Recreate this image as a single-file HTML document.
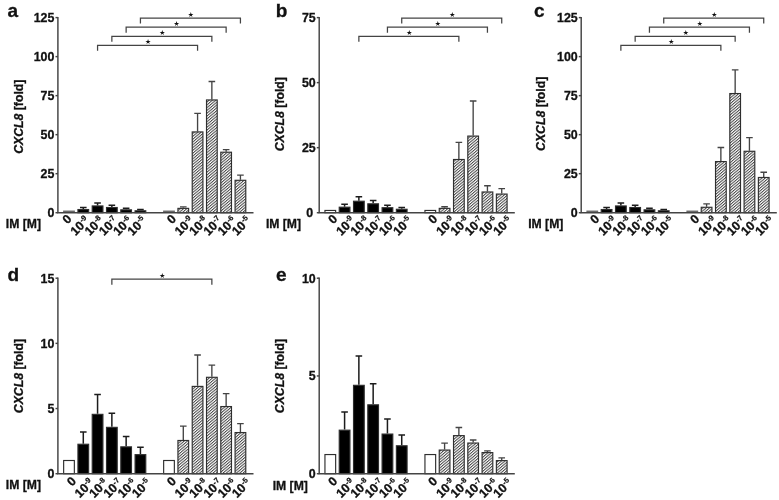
<!DOCTYPE html>
<html lang="en"><head><meta charset="utf-8"><title>CXCL8 fold induction</title>
<style>html,body{margin:0;padding:0;background:#fff}svg{display:block;will-change:transform}text{font-family:"Liberation Sans","DejaVu Sans",sans-serif;font-weight:bold;fill:#111;stroke:#111;stroke-width:0.3px}.t{font-size:12.4px}.p{font-size:19px}.s{font-size:7.5px;stroke-width:0.2px}.st{font-size:6.8px;font-weight:normal;stroke:none}.ln{stroke:#444;stroke-width:1.45;fill:none}.eb{stroke:#444;stroke-width:1.35;fill:none}.k{stroke:#1c1c1c;stroke-width:1.5}.br{stroke:#444;stroke-width:1.25;fill:none}</style></head><body>
<svg width="779" height="500" viewBox="0 0 779 500">
<defs><pattern id="h" width="2.15" height="2.15" patternUnits="userSpaceOnUse" patternTransform="rotate(-40)"><rect width="2.15" height="2.15" fill="#fff"/><rect y="0" width="2.15" height="1.0" fill="#484848"/></pattern></defs>
<rect width="779" height="500" fill="#fff"/>
<g>
<text class="p" x="7.6" y="17.4">a</text>
<text class="t" style="font-size:12.25px" text-anchor="middle" transform="translate(23.0,116.7) rotate(-90)"><tspan font-style="italic">CXCL8</tspan> [fold]</text>
<text class="t" style="font-size:12.2px" x="5.8" y="228.1">IM [M]</text>
<rect x="63.10" y="210.54" width="11.80" height="2.16" fill="#6a6a6a"/>
<path class="eb k" d="M83.29 208.99V207.59M79.99 207.59H86.59"/>
<rect x="77.94" y="209.54" width="10.70" height="3.16" fill="#000" stroke="#2e2e2e" stroke-width="1.15"/>
<path class="eb k" d="M97.57 205.40V203.09M94.27 203.09H100.87"/>
<rect x="92.22" y="205.95" width="10.70" height="6.75" fill="#000" stroke="#2e2e2e" stroke-width="1.15"/>
<path class="eb k" d="M111.86 206.96V205.32M108.56 205.32H115.16"/>
<rect x="106.51" y="207.51" width="10.70" height="5.19" fill="#000" stroke="#2e2e2e" stroke-width="1.15"/>
<path class="eb k" d="M126.14 209.30V208.13M122.84 208.13H129.44"/>
<rect x="120.79" y="209.85" width="10.70" height="2.85" fill="#000" stroke="#2e2e2e" stroke-width="1.15"/>
<path class="eb k" d="M140.43 210.24V209.43M137.13 209.43H143.73"/>
<rect x="135.08" y="210.79" width="10.70" height="1.91" fill="#000" stroke="#2e2e2e" stroke-width="1.15"/>
<rect x="163.10" y="210.54" width="11.80" height="2.16" fill="#6a6a6a"/>
<path class="eb" d="M183.29 207.82V206.88M179.99 206.88H186.59"/>
<rect x="177.94" y="208.37" width="10.70" height="4.33" fill="url(#h)" stroke="#2e2e2e" stroke-width="1.15"/>
<path class="eb" d="M197.57 131.38V113.44M194.27 113.44H200.87"/>
<rect x="192.22" y="131.93" width="10.70" height="80.77" fill="url(#h)" stroke="#2e2e2e" stroke-width="1.15"/>
<path class="eb" d="M211.86 99.40V81.46M208.56 81.46H215.16"/>
<rect x="206.51" y="99.95" width="10.70" height="112.75" fill="url(#h)" stroke="#2e2e2e" stroke-width="1.15"/>
<path class="eb" d="M226.14 151.66V149.63M222.84 149.63H229.44"/>
<rect x="220.79" y="152.21" width="10.70" height="60.49" fill="url(#h)" stroke="#2e2e2e" stroke-width="1.15"/>
<path class="eb" d="M240.43 179.74V175.06M237.13 175.06H243.73"/>
<rect x="235.08" y="180.29" width="10.70" height="32.41" fill="url(#h)" stroke="#2e2e2e" stroke-width="1.15"/>
<path class="ln" d="M57.90 17.00V212.70H253.50"/>
<path class="ln" d="M57.90 212.70H55.50"/>
<text class="t" text-anchor="end" x="54.4" y="217.1">0</text>
<path class="ln" d="M57.90 173.68H55.50"/>
<text class="t" text-anchor="end" x="54.4" y="178.1">25</text>
<path class="ln" d="M57.90 134.66H55.50"/>
<text class="t" text-anchor="end" x="54.4" y="139.1">50</text>
<path class="ln" d="M57.90 95.64H55.50"/>
<text class="t" text-anchor="end" x="54.4" y="100.0">75</text>
<path class="ln" d="M57.90 56.62H55.50"/>
<text class="t" text-anchor="end" x="54.4" y="61.0">100</text>
<path class="ln" d="M57.90 17.60H55.50"/>
<text class="t" text-anchor="end" x="54.4" y="22.0">125</text>
<text class="t" text-anchor="end" transform="translate(72.4,219.7) rotate(-45)">0</text>
<g transform="translate(85.2,226.4) rotate(-45)"><text class="t" text-anchor="end">10</text><text class="s" x="0.2" y="-4.5">-9</text></g>
<g transform="translate(99.5,226.4) rotate(-45)"><text class="t" text-anchor="end">10</text><text class="s" x="0.2" y="-4.5">-8</text></g>
<g transform="translate(113.8,226.4) rotate(-45)"><text class="t" text-anchor="end">10</text><text class="s" x="0.2" y="-4.5">-7</text></g>
<g transform="translate(128.0,226.4) rotate(-45)"><text class="t" text-anchor="end">10</text><text class="s" x="0.2" y="-4.5">-6</text></g>
<g transform="translate(142.3,226.4) rotate(-45)"><text class="t" text-anchor="end">10</text><text class="s" x="0.2" y="-4.5">-5</text></g>
<text class="t" text-anchor="end" transform="translate(176.8,219.7) rotate(-45)">0</text>
<g transform="translate(189.6,226.4) rotate(-45)"><text class="t" text-anchor="end">10</text><text class="s" x="0.2" y="-4.5">-9</text></g>
<g transform="translate(203.9,226.4) rotate(-45)"><text class="t" text-anchor="end">10</text><text class="s" x="0.2" y="-4.5">-8</text></g>
<g transform="translate(218.2,226.4) rotate(-45)"><text class="t" text-anchor="end">10</text><text class="s" x="0.2" y="-4.5">-7</text></g>
<g transform="translate(232.4,226.4) rotate(-45)"><text class="t" text-anchor="end">10</text><text class="s" x="0.2" y="-4.5">-6</text></g>
<g transform="translate(246.7,226.4) rotate(-45)"><text class="t" text-anchor="end">10</text><text class="s" x="0.2" y="-4.5">-5</text></g>
<path class="br" d="M97.57 50.80V45.30H197.57V50.80"/>
<text class="st" text-anchor="middle" x="148.1" y="44.4">★</text>
<path class="br" d="M111.86 41.80V36.30H211.86V41.80"/>
<text class="st" text-anchor="middle" x="162.4" y="35.4">★</text>
<path class="br" d="M126.14 32.70V27.20H226.14V32.70"/>
<text class="st" text-anchor="middle" x="176.6" y="26.3">★</text>
<path class="br" d="M140.43 23.50V18.00H240.43V23.50"/>
<text class="st" text-anchor="middle" x="190.9" y="17.1">★</text>
</g>
<g>
<text class="p" x="275.7" y="16.9">b</text>
<text class="t" style="font-size:12.25px" text-anchor="middle" transform="translate(284.3,114.2) rotate(-90)"><tspan font-style="italic">CXCL8</tspan> [fold]</text>
<text class="t" style="font-size:12.2px" x="265.9" y="228.1">IM [M]</text>
<rect x="324.95" y="210.45" width="10.70" height="2.25" fill="#fff" stroke="#2e2e2e" stroke-width="1.15"/>
<path class="eb k" d="M344.59 206.65V204.31M341.29 204.31H347.89"/>
<rect x="339.24" y="207.20" width="10.70" height="5.50" fill="#000" stroke="#2e2e2e" stroke-width="1.15"/>
<path class="eb k" d="M358.87 200.67V196.82M355.57 196.82H362.17"/>
<rect x="353.52" y="201.22" width="10.70" height="11.48" fill="#000" stroke="#2e2e2e" stroke-width="1.15"/>
<path class="eb k" d="M373.16 203.27V200.54M369.86 200.54H376.46"/>
<rect x="367.81" y="203.82" width="10.70" height="8.88" fill="#000" stroke="#2e2e2e" stroke-width="1.15"/>
<path class="eb k" d="M387.44 207.17V205.22M384.14 205.22H390.74"/>
<rect x="382.09" y="207.72" width="10.70" height="4.98" fill="#000" stroke="#2e2e2e" stroke-width="1.15"/>
<path class="eb k" d="M401.73 208.73V207.38M398.43 207.38H405.03"/>
<rect x="396.38" y="209.28" width="10.70" height="3.42" fill="#000" stroke="#2e2e2e" stroke-width="1.15"/>
<rect x="424.95" y="210.45" width="10.70" height="2.25" fill="#fff" stroke="#2e2e2e" stroke-width="1.15"/>
<path class="eb" d="M444.59 207.82V206.78M441.29 206.78H447.89"/>
<rect x="439.24" y="208.37" width="10.70" height="4.33" fill="url(#h)" stroke="#2e2e2e" stroke-width="1.15"/>
<path class="eb" d="M458.87 158.94V142.30M455.57 142.30H462.17"/>
<rect x="453.52" y="159.49" width="10.70" height="53.21" fill="url(#h)" stroke="#2e2e2e" stroke-width="1.15"/>
<path class="eb" d="M473.16 135.54V100.96M469.86 100.96H476.46"/>
<rect x="467.81" y="136.09" width="10.70" height="76.61" fill="url(#h)" stroke="#2e2e2e" stroke-width="1.15"/>
<path class="eb" d="M487.44 191.44V185.72M484.14 185.72H490.74"/>
<rect x="482.09" y="191.99" width="10.70" height="20.71" fill="url(#h)" stroke="#2e2e2e" stroke-width="1.15"/>
<path class="eb" d="M501.73 193.52V188.58M498.43 188.58H505.03"/>
<rect x="496.38" y="194.07" width="10.70" height="18.63" fill="url(#h)" stroke="#2e2e2e" stroke-width="1.15"/>
<path class="ln" d="M319.20 17.00V212.70H514.80"/>
<path class="ln" d="M319.20 212.70H316.80"/>
<text class="t" text-anchor="end" x="313.2" y="217.1">0</text>
<path class="ln" d="M319.20 147.67H316.80"/>
<text class="t" text-anchor="end" x="315.7" y="152.1">25</text>
<path class="ln" d="M319.20 82.63H316.80"/>
<text class="t" text-anchor="end" x="315.7" y="87.0">50</text>
<path class="ln" d="M319.20 17.60H316.80"/>
<text class="t" text-anchor="end" x="315.7" y="22.0">75</text>
<text class="t" text-anchor="end" transform="translate(338.1,219.7) rotate(-45)">0</text>
<g transform="translate(350.9,226.4) rotate(-45)"><text class="t" text-anchor="end">10</text><text class="s" x="0.2" y="-4.5">-9</text></g>
<g transform="translate(365.2,226.4) rotate(-45)"><text class="t" text-anchor="end">10</text><text class="s" x="0.2" y="-4.5">-8</text></g>
<g transform="translate(379.5,226.4) rotate(-45)"><text class="t" text-anchor="end">10</text><text class="s" x="0.2" y="-4.5">-7</text></g>
<g transform="translate(393.7,226.4) rotate(-45)"><text class="t" text-anchor="end">10</text><text class="s" x="0.2" y="-4.5">-6</text></g>
<g transform="translate(408.0,226.4) rotate(-45)"><text class="t" text-anchor="end">10</text><text class="s" x="0.2" y="-4.5">-5</text></g>
<text class="t" text-anchor="end" transform="translate(438.1,219.7) rotate(-45)">0</text>
<g transform="translate(450.9,226.4) rotate(-45)"><text class="t" text-anchor="end">10</text><text class="s" x="0.2" y="-4.5">-9</text></g>
<g transform="translate(465.2,226.4) rotate(-45)"><text class="t" text-anchor="end">10</text><text class="s" x="0.2" y="-4.5">-8</text></g>
<g transform="translate(479.5,226.4) rotate(-45)"><text class="t" text-anchor="end">10</text><text class="s" x="0.2" y="-4.5">-7</text></g>
<g transform="translate(493.7,226.4) rotate(-45)"><text class="t" text-anchor="end">10</text><text class="s" x="0.2" y="-4.5">-6</text></g>
<g transform="translate(508.0,226.4) rotate(-45)"><text class="t" text-anchor="end">10</text><text class="s" x="0.2" y="-4.5">-5</text></g>
<path class="br" d="M358.87 41.80V36.30H458.87V41.80"/>
<text class="st" text-anchor="middle" x="409.4" y="35.4">★</text>
<path class="br" d="M387.44 32.70V27.20H487.44V32.70"/>
<text class="st" text-anchor="middle" x="437.9" y="26.3">★</text>
<path class="br" d="M401.73 23.50V18.00H501.73V23.50"/>
<text class="st" text-anchor="middle" x="452.2" y="17.1">★</text>
</g>
<g>
<text class="p" x="534.0" y="17.3">c</text>
<text class="t" style="font-size:12.25px" text-anchor="middle" transform="translate(545.2,113.8) rotate(-90)"><tspan font-style="italic">CXCL8</tspan> [fold]</text>
<text class="t" style="font-size:12.2px" x="528.2" y="228.1">IM [M]</text>
<rect x="586.40" y="210.54" width="11.80" height="2.16" fill="#6a6a6a"/>
<path class="eb k" d="M606.59 208.99V207.59M603.29 207.59H609.89"/>
<rect x="601.24" y="209.54" width="10.70" height="3.16" fill="#000" stroke="#2e2e2e" stroke-width="1.15"/>
<path class="eb k" d="M620.87 205.40V203.09M617.57 203.09H624.17"/>
<rect x="615.52" y="205.95" width="10.70" height="6.75" fill="#000" stroke="#2e2e2e" stroke-width="1.15"/>
<path class="eb k" d="M635.16 206.96V205.32M631.86 205.32H638.46"/>
<rect x="629.81" y="207.51" width="10.70" height="5.19" fill="#000" stroke="#2e2e2e" stroke-width="1.15"/>
<path class="eb k" d="M649.44 209.30V208.13M646.14 208.13H652.74"/>
<rect x="644.09" y="209.85" width="10.70" height="2.85" fill="#000" stroke="#2e2e2e" stroke-width="1.15"/>
<path class="eb k" d="M663.73 210.24V209.43M660.43 209.43H667.03"/>
<rect x="658.38" y="210.79" width="10.70" height="1.91" fill="#000" stroke="#2e2e2e" stroke-width="1.15"/>
<rect x="686.40" y="210.54" width="11.80" height="2.16" fill="#6a6a6a"/>
<path class="eb" d="M706.59 206.73V203.92M703.29 203.92H709.89"/>
<rect x="701.24" y="207.28" width="10.70" height="5.42" fill="url(#h)" stroke="#2e2e2e" stroke-width="1.15"/>
<path class="eb" d="M720.87 161.02V147.45M717.57 147.45H724.17"/>
<rect x="715.52" y="161.57" width="10.70" height="51.13" fill="url(#h)" stroke="#2e2e2e" stroke-width="1.15"/>
<path class="eb" d="M735.16 93.00V69.92M731.86 69.92H738.46"/>
<rect x="729.81" y="93.55" width="10.70" height="119.15" fill="url(#h)" stroke="#2e2e2e" stroke-width="1.15"/>
<path class="eb" d="M749.44 150.72V137.62M746.14 137.62H752.74"/>
<rect x="744.09" y="151.27" width="10.70" height="61.43" fill="url(#h)" stroke="#2e2e2e" stroke-width="1.15"/>
<path class="eb" d="M763.73 176.93V172.25M760.43 172.25H767.03"/>
<rect x="758.38" y="177.48" width="10.70" height="35.22" fill="url(#h)" stroke="#2e2e2e" stroke-width="1.15"/>
<path class="ln" d="M581.20 17.00V212.70H776.80"/>
<path class="ln" d="M581.20 212.70H578.80"/>
<text class="t" text-anchor="end" x="577.7" y="217.1">0</text>
<path class="ln" d="M581.20 173.68H578.80"/>
<text class="t" text-anchor="end" x="577.7" y="178.1">25</text>
<path class="ln" d="M581.20 134.66H578.80"/>
<text class="t" text-anchor="end" x="577.7" y="139.1">50</text>
<path class="ln" d="M581.20 95.64H578.80"/>
<text class="t" text-anchor="end" x="577.7" y="100.0">75</text>
<path class="ln" d="M581.20 56.62H578.80"/>
<text class="t" text-anchor="end" x="577.7" y="61.0">100</text>
<path class="ln" d="M581.20 17.60H578.80"/>
<text class="t" text-anchor="end" x="577.7" y="22.0">125</text>
<text class="t" text-anchor="end" transform="translate(600.1,219.7) rotate(-45)">0</text>
<g transform="translate(612.9,226.4) rotate(-45)"><text class="t" text-anchor="end">10</text><text class="s" x="0.2" y="-4.5">-9</text></g>
<g transform="translate(627.2,226.4) rotate(-45)"><text class="t" text-anchor="end">10</text><text class="s" x="0.2" y="-4.5">-8</text></g>
<g transform="translate(641.5,226.4) rotate(-45)"><text class="t" text-anchor="end">10</text><text class="s" x="0.2" y="-4.5">-7</text></g>
<g transform="translate(655.7,226.4) rotate(-45)"><text class="t" text-anchor="end">10</text><text class="s" x="0.2" y="-4.5">-6</text></g>
<g transform="translate(670.0,226.4) rotate(-45)"><text class="t" text-anchor="end">10</text><text class="s" x="0.2" y="-4.5">-5</text></g>
<text class="t" text-anchor="end" transform="translate(700.1,219.7) rotate(-45)">0</text>
<g transform="translate(712.9,226.4) rotate(-45)"><text class="t" text-anchor="end">10</text><text class="s" x="0.2" y="-4.5">-9</text></g>
<g transform="translate(727.2,226.4) rotate(-45)"><text class="t" text-anchor="end">10</text><text class="s" x="0.2" y="-4.5">-8</text></g>
<g transform="translate(741.5,226.4) rotate(-45)"><text class="t" text-anchor="end">10</text><text class="s" x="0.2" y="-4.5">-7</text></g>
<g transform="translate(755.7,226.4) rotate(-45)"><text class="t" text-anchor="end">10</text><text class="s" x="0.2" y="-4.5">-6</text></g>
<g transform="translate(770.0,226.4) rotate(-45)"><text class="t" text-anchor="end">10</text><text class="s" x="0.2" y="-4.5">-5</text></g>
<path class="br" d="M620.87 50.80V45.30H720.87V50.80"/>
<text class="st" text-anchor="middle" x="671.4" y="44.4">★</text>
<path class="br" d="M635.16 41.80V36.30H735.16V41.80"/>
<text class="st" text-anchor="middle" x="685.7" y="35.4">★</text>
<path class="br" d="M649.44 32.70V27.20H749.44V32.70"/>
<text class="st" text-anchor="middle" x="699.9" y="26.3">★</text>
<path class="br" d="M663.73 23.50V18.00H763.73V23.50"/>
<text class="st" text-anchor="middle" x="714.2" y="17.1">★</text>
</g>
<g>
<text class="p" x="7.5" y="280.5">d</text>
<text class="t" style="font-size:12.25px" text-anchor="middle" transform="translate(23.0,376.1) rotate(-90)"><tspan font-style="italic">CXCL8</tspan> [fold]</text>
<text class="t" style="font-size:12.2px" x="5.8" y="489.1">IM [M]</text>
<rect x="63.65" y="460.50" width="10.70" height="13.20" fill="#fff" stroke="#2e2e2e" stroke-width="1.15"/>
<path class="eb k" d="M83.29 443.70V432.00M79.99 432.00H86.59"/>
<rect x="77.94" y="444.25" width="10.70" height="29.45" fill="#000" stroke="#2e2e2e" stroke-width="1.15"/>
<path class="eb k" d="M97.57 413.80V394.56M94.27 394.56H100.87"/>
<rect x="92.22" y="414.35" width="10.70" height="59.35" fill="#000" stroke="#2e2e2e" stroke-width="1.15"/>
<path class="eb k" d="M111.86 426.80V413.15M108.56 413.15H115.16"/>
<rect x="106.51" y="427.35" width="10.70" height="46.35" fill="#000" stroke="#2e2e2e" stroke-width="1.15"/>
<path class="eb k" d="M126.14 446.30V436.55M122.84 436.55H129.44"/>
<rect x="120.79" y="446.85" width="10.70" height="26.85" fill="#000" stroke="#2e2e2e" stroke-width="1.15"/>
<path class="eb k" d="M140.43 454.10V447.34M137.13 447.34H143.73"/>
<rect x="135.08" y="454.65" width="10.70" height="19.05" fill="#000" stroke="#2e2e2e" stroke-width="1.15"/>
<rect x="163.65" y="460.50" width="10.70" height="13.20" fill="#fff" stroke="#2e2e2e" stroke-width="1.15"/>
<path class="eb" d="M183.29 439.93V426.15M179.99 426.15H186.59"/>
<rect x="177.94" y="440.48" width="10.70" height="33.22" fill="url(#h)" stroke="#2e2e2e" stroke-width="1.15"/>
<path class="eb" d="M197.57 385.85V355.04M194.27 355.04H200.87"/>
<rect x="192.22" y="386.40" width="10.70" height="87.30" fill="url(#h)" stroke="#2e2e2e" stroke-width="1.15"/>
<path class="eb" d="M211.86 376.75V365.05M208.56 365.05H215.16"/>
<rect x="206.51" y="377.30" width="10.70" height="96.40" fill="url(#h)" stroke="#2e2e2e" stroke-width="1.15"/>
<path class="eb" d="M226.14 406.00V393.65M222.84 393.65H229.44"/>
<rect x="220.79" y="406.55" width="10.70" height="67.15" fill="url(#h)" stroke="#2e2e2e" stroke-width="1.15"/>
<path class="eb" d="M240.43 432.00V423.55M237.13 423.55H243.73"/>
<rect x="235.08" y="432.55" width="10.70" height="41.15" fill="url(#h)" stroke="#2e2e2e" stroke-width="1.15"/>
<path class="ln" d="M57.90 277.60V473.70H253.50"/>
<path class="ln" d="M57.90 473.70H55.50"/>
<text class="t" text-anchor="end" x="54.4" y="478.1">0</text>
<path class="ln" d="M57.90 408.53H55.50"/>
<text class="t" text-anchor="end" x="54.4" y="412.9">5</text>
<path class="ln" d="M57.90 343.37H55.50"/>
<text class="t" text-anchor="end" x="54.4" y="347.8">10</text>
<path class="ln" d="M57.90 278.20H55.50"/>
<text class="t" text-anchor="end" x="54.4" y="282.6">15</text>
<text class="t" text-anchor="end" transform="translate(76.8,481.8) rotate(-45)">0</text>
<g transform="translate(89.6,488.7) rotate(-45)"><text class="t" text-anchor="end">10</text><text class="s" x="0.2" y="-4.5">-9</text></g>
<g transform="translate(103.9,488.7) rotate(-45)"><text class="t" text-anchor="end">10</text><text class="s" x="0.2" y="-4.5">-8</text></g>
<g transform="translate(118.2,488.7) rotate(-45)"><text class="t" text-anchor="end">10</text><text class="s" x="0.2" y="-4.5">-7</text></g>
<g transform="translate(132.4,488.7) rotate(-45)"><text class="t" text-anchor="end">10</text><text class="s" x="0.2" y="-4.5">-6</text></g>
<g transform="translate(146.7,488.7) rotate(-45)"><text class="t" text-anchor="end">10</text><text class="s" x="0.2" y="-4.5">-5</text></g>
<text class="t" text-anchor="end" transform="translate(176.8,481.8) rotate(-45)">0</text>
<g transform="translate(189.6,488.7) rotate(-45)"><text class="t" text-anchor="end">10</text><text class="s" x="0.2" y="-4.5">-9</text></g>
<g transform="translate(203.9,488.7) rotate(-45)"><text class="t" text-anchor="end">10</text><text class="s" x="0.2" y="-4.5">-8</text></g>
<g transform="translate(218.2,488.7) rotate(-45)"><text class="t" text-anchor="end">10</text><text class="s" x="0.2" y="-4.5">-7</text></g>
<g transform="translate(232.4,488.7) rotate(-45)"><text class="t" text-anchor="end">10</text><text class="s" x="0.2" y="-4.5">-6</text></g>
<g transform="translate(246.7,488.7) rotate(-45)"><text class="t" text-anchor="end">10</text><text class="s" x="0.2" y="-4.5">-5</text></g>
<path class="br" d="M111.86 284.70V279.20H211.86V284.70"/>
<text class="st" text-anchor="middle" x="162.4" y="278.3">★</text>
</g>
<g>
<text class="p" x="276.0" y="280.7">e</text>
<text class="t" style="font-size:12.25px" text-anchor="middle" transform="translate(284.3,376.1) rotate(-90)"><tspan font-style="italic">CXCL8</tspan> [fold]</text>
<text class="t" style="font-size:12.2px" x="272.7" y="490.4">IM [M]</text>
<rect x="324.95" y="454.55" width="10.70" height="19.15" fill="#fff" stroke="#2e2e2e" stroke-width="1.15"/>
<path class="eb k" d="M344.59 429.62V412.07M341.29 412.07H347.89"/>
<rect x="339.24" y="430.18" width="10.70" height="43.52" fill="#000" stroke="#2e2e2e" stroke-width="1.15"/>
<path class="eb k" d="M358.87 384.77V355.91M355.57 355.91H362.17"/>
<rect x="353.52" y="385.32" width="10.70" height="88.38" fill="#000" stroke="#2e2e2e" stroke-width="1.15"/>
<path class="eb k" d="M373.16 404.27V383.80M369.86 383.80H376.46"/>
<rect x="367.81" y="404.82" width="10.70" height="68.88" fill="#000" stroke="#2e2e2e" stroke-width="1.15"/>
<path class="eb k" d="M387.44 433.52V418.90M384.14 418.90H390.74"/>
<rect x="382.09" y="434.07" width="10.70" height="39.63" fill="#000" stroke="#2e2e2e" stroke-width="1.15"/>
<path class="eb k" d="M401.73 445.23V435.08M398.43 435.08H405.03"/>
<rect x="396.38" y="445.78" width="10.70" height="27.92" fill="#000" stroke="#2e2e2e" stroke-width="1.15"/>
<rect x="424.95" y="454.55" width="10.70" height="19.15" fill="#fff" stroke="#2e2e2e" stroke-width="1.15"/>
<path class="eb" d="M444.59 449.51V443.08M441.29 443.08H447.89"/>
<rect x="439.24" y="450.06" width="10.70" height="23.64" fill="url(#h)" stroke="#2e2e2e" stroke-width="1.15"/>
<path class="eb" d="M458.87 435.08V427.48M455.57 427.48H462.17"/>
<rect x="453.52" y="435.63" width="10.70" height="38.07" fill="url(#h)" stroke="#2e2e2e" stroke-width="1.15"/>
<path class="eb" d="M473.16 442.50V439.96M469.86 439.96H476.46"/>
<rect x="467.81" y="443.05" width="10.70" height="30.65" fill="url(#h)" stroke="#2e2e2e" stroke-width="1.15"/>
<path class="eb" d="M487.44 452.05V450.88M484.14 450.88H490.74"/>
<rect x="482.09" y="452.60" width="10.70" height="21.10" fill="url(#h)" stroke="#2e2e2e" stroke-width="1.15"/>
<path class="eb" d="M501.73 460.05V457.90M498.43 457.90H505.03"/>
<rect x="496.38" y="460.60" width="10.70" height="13.10" fill="url(#h)" stroke="#2e2e2e" stroke-width="1.15"/>
<path class="ln" d="M319.20 277.60V473.70H514.80"/>
<path class="ln" d="M319.20 473.70H316.80"/>
<text class="t" text-anchor="end" x="315.7" y="478.1">0</text>
<path class="ln" d="M319.20 375.95H316.80"/>
<text class="t" text-anchor="end" x="315.7" y="380.3">5</text>
<path class="ln" d="M319.20 278.20H316.80"/>
<text class="t" text-anchor="end" x="315.7" y="282.6">10</text>
<text class="t" text-anchor="end" transform="translate(338.1,481.8) rotate(-45)">0</text>
<g transform="translate(350.9,488.7) rotate(-45)"><text class="t" text-anchor="end">10</text><text class="s" x="0.2" y="-4.5">-9</text></g>
<g transform="translate(365.2,488.7) rotate(-45)"><text class="t" text-anchor="end">10</text><text class="s" x="0.2" y="-4.5">-8</text></g>
<g transform="translate(379.5,488.7) rotate(-45)"><text class="t" text-anchor="end">10</text><text class="s" x="0.2" y="-4.5">-7</text></g>
<g transform="translate(393.7,488.7) rotate(-45)"><text class="t" text-anchor="end">10</text><text class="s" x="0.2" y="-4.5">-6</text></g>
<g transform="translate(408.0,488.7) rotate(-45)"><text class="t" text-anchor="end">10</text><text class="s" x="0.2" y="-4.5">-5</text></g>
<text class="t" text-anchor="end" transform="translate(438.1,481.8) rotate(-45)">0</text>
<g transform="translate(450.9,488.7) rotate(-45)"><text class="t" text-anchor="end">10</text><text class="s" x="0.2" y="-4.5">-9</text></g>
<g transform="translate(465.2,488.7) rotate(-45)"><text class="t" text-anchor="end">10</text><text class="s" x="0.2" y="-4.5">-8</text></g>
<g transform="translate(479.5,488.7) rotate(-45)"><text class="t" text-anchor="end">10</text><text class="s" x="0.2" y="-4.5">-7</text></g>
<g transform="translate(493.7,488.7) rotate(-45)"><text class="t" text-anchor="end">10</text><text class="s" x="0.2" y="-4.5">-6</text></g>
<g transform="translate(508.0,488.7) rotate(-45)"><text class="t" text-anchor="end">10</text><text class="s" x="0.2" y="-4.5">-5</text></g>
</g>
</svg></body></html>
